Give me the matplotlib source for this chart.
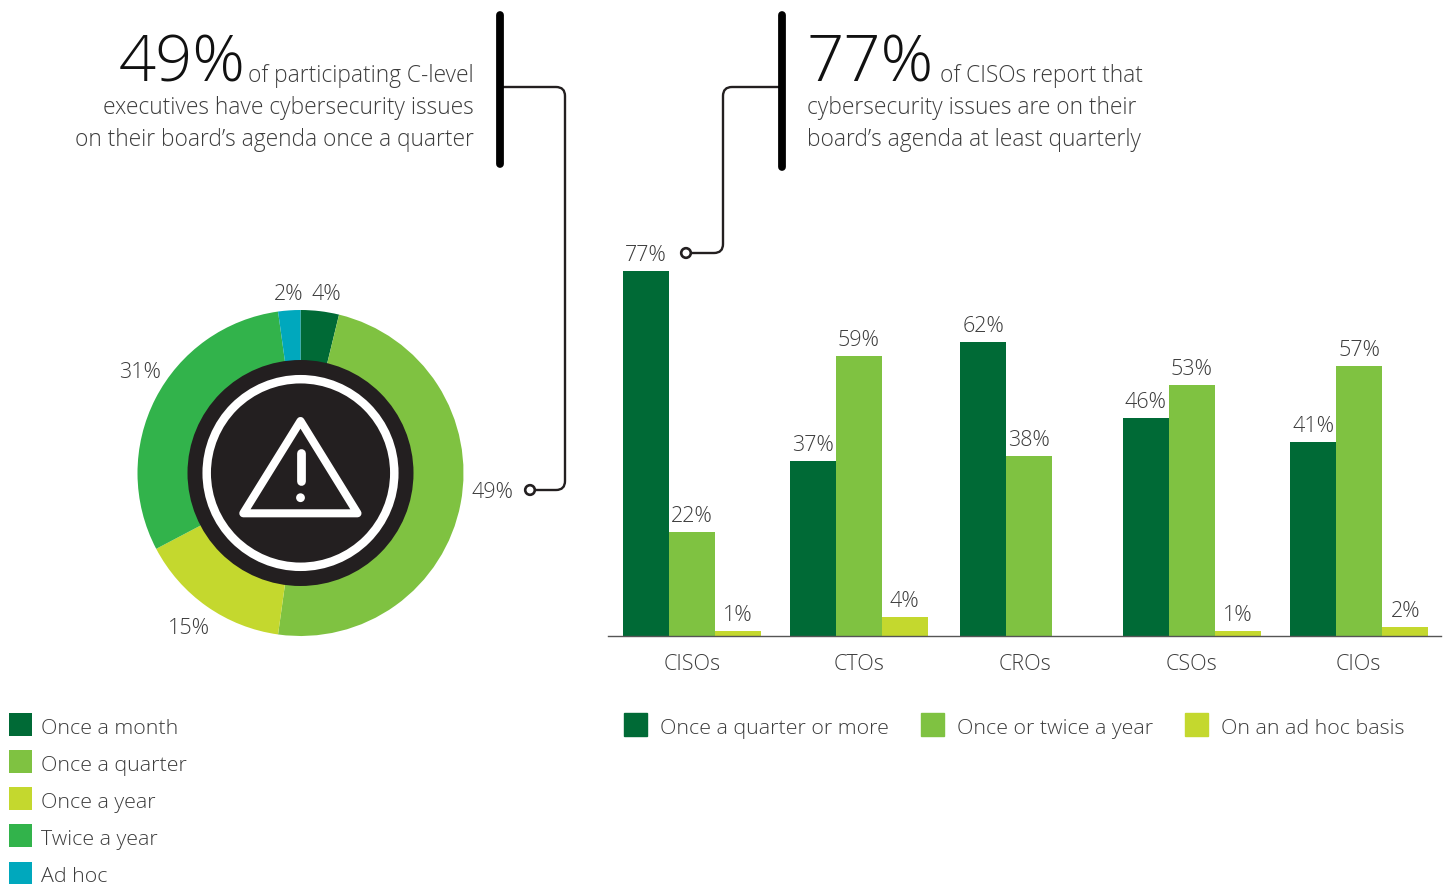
import numpy as np
import matplotlib
matplotlib.use("Agg")
import matplotlib.pyplot as plt
from matplotlib.patches import Circle, PathPatch, Patch
from matplotlib.path import Path

plt.rcParams['font.family'] = ['Open Sans', 'DejaVu Sans']
plt.rcParams['font.weight'] = 'light'

W, H = 1447, 884
TXT = '#3c3c3c'
DGREEN, LGREEN, LIME, GREEN, TEAL = '#006a36', '#7fc241', '#c4d82e', '#32b34b', '#00a8bd'

# Data
pie_labels = ['Once a month', 'Once a quarter', 'Once a year', 'Twice a year', 'Ad hoc']
pie_printed = [4, 49, 15, 31, 2]
pie_shares = [3.8, 48.4, 15.1, 30.5, 2.2]
categories = ['CISOs', 'CTOs', 'CROs', 'CSOs', 'CIOs']
series_names = ['Once a quarter or more', 'Once or twice a year', 'On an ad hoc basis']
quarter = [77, 37, 62, 46, 41]
yearly = [22, 59, 38, 53, 57]
adhoc = [1, 4, 0, 1, 2]
pie_pct_pos = [(326, 295), (492, 493), (189, 629), (140, 373), (289, 295)]


def axpx(fig, l, t, r, b):
    return fig.add_axes([l / W, 1 - b / H, (r - l) / W, (b - t) / H])


fig = plt.figure(figsize=(W / 100, H / 100), dpi=100, facecolor='white')

# Overlay in pixel coordinates (callouts, icon, text)
ov = fig.add_axes([0, 0, 1, 1], zorder=5)
ov.set_xlim(0, W)
ov.set_ylim(H, 0)
ov.axis('off')
ov.patch.set_alpha(0)

# Donut
CX, CY, R = 300.5, 473, 163
pa = axpx(fig, CX - R, CY - R, CX + R, CY + R)
wedges, _ = pa.pie(pie_shares, colors=[DGREEN, LGREEN, LIME, GREEN, TEAL],
                   startangle=90, counterclock=False, radius=1)
pa.set_xlim(-1, 1)
pa.set_ylim(-1, 1)
for v, (x, y) in zip(pie_printed, pie_pct_pos):
    ov.text(x, y, f'{v}%', ha='center', va='center', fontsize=15.5, color=TXT)

ov.add_patch(Circle((CX, CY), 113, fc='#231f20', ec='none'))
ov.add_patch(Circle((CX, CY), 93.8, fc='none', ec='white', lw=6.1))
ov.add_patch(plt.Polygon([(300.5, 421), (243.3, 513.3), (357.5, 513.3)], closed=True, fc='none',
                         ec='white', lw=5.8, joinstyle='round'))
ov.plot([300.5, 300.5], [452.5, 480.5], color='white', lw=6.3, solid_capstyle='round')
ov.add_patch(Circle((300.5, 497.7), 4.4, fc='white', ec='none'))

# Bars
BASE, PX = 636, 4.74
STEP, BW = 166.6, 46
ba = axpx(fig, 608, 200, 1441, BASE)
ba.set_xlim((608 - 692) / STEP, (1441 - 692) / STEP)
ba.set_ylim(0, (BASE - 200) / PX)
x = np.arange(len(categories), dtype=float)
group_shift = np.array([0, 0, 4, 0, 1]) / STEP
w = BW / STEP
for vals, off, col, name in zip([quarter, yearly, adhoc], [-1, 0, 1], [DGREEN, LGREEN, LIME], series_names):
    bars = ba.bar(x + group_shift + off * w, vals, width=w, color=col, label=name)
    ba.bar_label(bars, labels=[f'{v}%' if v else '' for v in vals], padding=3.6,
                 fontsize=15.5, color=TXT)
ba.set_xticks(x, categories)
ba.tick_params(axis='x', length=0, pad=13, labelsize=15.5, labelcolor=TXT)
ba.set_yticks([])
for s in ['top', 'left', 'right']:
    ba.spines[s].set_visible(False)
ba.spines['bottom'].set_color('#555555')
ba.spines['bottom'].set_linewidth(1.0)
ba.patch.set_alpha(0)

# Callout connectors
ov.plot([499.5, 499.5], [15, 164], color='black', lw=5.6, solid_capstyle='round')
ov.plot([781.5, 781.5], [15, 167], color='black', lw=5.6, solid_capstyle='round')


def connector(pts, rad=9):
    p0, c1, c2, p3 = [np.array(p, float) for p in pts]

    def toward(a, b):
        return a + (b - a) / np.linalg.norm(b - a) * rad
    verts = [p0, toward(c1, p0), c1, toward(c1, c2), toward(c2, c1), c2, toward(c2, p3), p3]
    codes = [Path.MOVETO, Path.LINETO, Path.CURVE3, Path.CURVE3, Path.LINETO, Path.CURVE3, Path.CURVE3, Path.LINETO]
    ov.add_patch(PathPatch(Path(verts, codes), fc='none', ec='#231f20', lw=1.7))


connector([(499, 87), (565, 87), (565, 490), (535, 490)])
connector([(781, 87), (723, 87), (723, 253), (691, 253)])
ov.add_patch(Circle((530, 490), 4.8, fc='white', ec='#231f20', lw=1.9, zorder=6))
ov.add_patch(Circle((686, 253), 4.8, fc='white', ec='#231f20', lw=1.9, zorder=6))

# Headline text
BODY = 16.4
BIG = 47
ov.text(246, 82, '49%', ha='right', va='baseline', fontsize=BIG, color='#111111')
ov.text(474, 82, 'of participating C-level', ha='right', va='baseline', fontsize=BODY, color=TXT)
ov.text(474, 114, 'executives have cybersecurity issues', ha='right', va='baseline', fontsize=BODY, color=TXT)
ov.text(474, 146, 'on their board\u2019s agenda once a quarter', ha='right', va='baseline', fontsize=BODY, color=TXT)
ov.text(807, 82, '77%', ha='left', va='baseline', fontsize=BIG, color='#111111')
ov.text(940, 82, 'of CISOs report that', ha='left', va='baseline', fontsize=BODY, color=TXT)
ov.text(807, 114, 'cybersecurity issues are on their', ha='left', va='baseline', fontsize=BODY, color=TXT)
ov.text(807, 146, 'board\u2019s agenda at least quarterly', ha='left', va='baseline', fontsize=BODY, color=TXT)

# Legends
LEG = 15.4
leg1 = fig.legend(wedges, pie_labels, loc='upper left', bbox_to_anchor=(9 / W, 1 - 713 / H), frameon=False,
                  fontsize=LEG, labelcolor=TXT, handlelength=1.075, handleheight=1.277, handletextpad=0.42,
                  labelspacing=0.63, borderpad=0, borderaxespad=0)
h = [Patch(color=c) for c in [DGREEN, LGREEN, LIME]]
leg2 = fig.legend(h, series_names, loc='upper left', bbox_to_anchor=(624 / W, 1 - 713 / H), frameon=False, ncol=3,
                  fontsize=LEG, labelcolor=TXT, handlelength=1.075, handleheight=1.277, handletextpad=0.6,
                  columnspacing=1.5, borderpad=0, borderaxespad=0)
for leg in (leg1, leg2):
    for t in leg.get_texts():
        t.set_y(-2)

fig.savefig('out.png', dpi=100, facecolor='white')
